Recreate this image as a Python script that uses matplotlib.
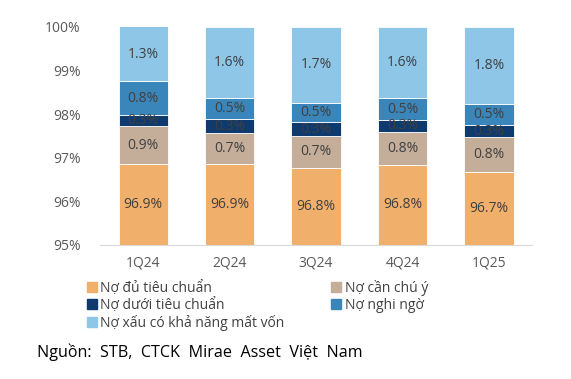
import matplotlib.pyplot as plt
from matplotlib.patches import Patch

plt.rcParams['font.family'] = ['Open Sans', 'DejaVu Sans']

quarters = ["1Q24", "2Q24", "3Q24", "4Q24", "1Q25"]
du_tieu_chuan = [96.86, 96.86, 96.77, 96.83, 96.68]
can_chu_y = [0.86, 0.70, 0.73, 0.77, 0.80]
duoi_tieu_chuan = [0.26, 0.32, 0.31, 0.27, 0.26]
nghi_ngo = [0.77, 0.48, 0.45, 0.49, 0.50]
mat_von = [1.26, 1.64, 1.74, 1.64, 1.76]

series = [
    ("Nợ đủ tiêu chuẩn", du_tieu_chuan, "#F0B06B"),
    ("Nợ cần chú ý", can_chu_y, "#C4AD99"),
    ("Nợ dưới tiêu chuẩn", duoi_tieu_chuan, "#0F3A6E"),
    ("Nợ nghi ngờ", nghi_ngo, "#3A86BA"),
    ("Nợ xấu có khả năng mất vốn", mat_von, "#8EC6E8"),
]

fig = plt.figure(figsize=(5.71, 3.79), dpi=100)
ax = fig.add_axes([0.175, 0.354, 0.757, 0.575])

x = list(range(len(quarters)))
bottom = [0.0] * len(quarters)
for name, vals, color in series:
    ax.bar(x, vals, bottom=bottom, width=0.57, color=color,
           edgecolor="white", linewidth=0.6, label=name)
    for xi, b, v in zip(x, bottom, vals):
        yc = (max(b, 95) + min(b + v, 100)) / 2
        ax.text(xi, yc, f"{v:.1f}%", ha="center", va="center",
                fontsize=10, color="#404040")
    bottom = [b + v for b, v in zip(bottom, vals)]

ax.set_ylim(95, 100)
ax.set_xlim(-0.5, 4.5)
ax.set_yticks([95, 96, 97, 98, 99, 100])
ax.set_yticklabels([f"{t}%" for t in range(95, 101)])
ax.set_xticks(x)
ax.set_xticklabels(quarters)
ax.tick_params(axis="both", length=0, labelsize=10, colors="#595959")
ax.tick_params(axis="y", pad=14)
ax.tick_params(axis="x", pad=8)
for s in ["left", "right", "top"]:
    ax.spines[s].set_visible(False)
ax.spines["bottom"].set_color("#D9D9D9")

handles = [Patch(color=c, label=n) for n, _, c in series]
order = [0, 2, 4, 1, 3]
fig.legend([handles[i] for i in order], [series[i][0] for i in order],
           ncol=2, loc="upper left", bbox_to_anchor=(0.152, 0.262),
           frameon=False, fontsize=10, handlelength=0.7, handleheight=0.7,
           handletextpad=0.25, columnspacing=3.4, labelspacing=0.15,
           borderaxespad=0, borderpad=0, labelcolor="#404040")

fig.text(0.065, 0.07, "Nguồn:  STB,  CTCK  Mirae  Asset  Việt  Nam",
         fontsize=11.6, color="black", va="center")

fig.savefig("out.png", dpi=100)
